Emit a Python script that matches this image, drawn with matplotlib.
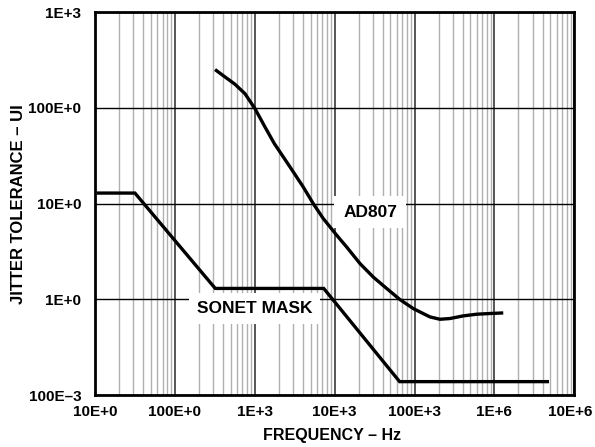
import matplotlib
matplotlib.use("Agg")
import matplotlib.pyplot as plt
import matplotlib.transforms as mtransforms
from matplotlib.ticker import FixedLocator, LogLocator, NullFormatter

plt.rcParams['font.family'] = ['Liberation Sans', 'DejaVu Sans']
plt.rcParams['font.weight'] = 'bold'

# SONET mask
sonet_freq = [11, 31.6, 320, 7300, 65000, 4.6e6]
sonet_ui = [12.9, 12.9, 1.3, 1.3, 0.138, 0.138]

# AD807 jitter tolerance
ad_freq = [318, 424, 565, 754, 1004, 1342, 1755, 2760, 4050, 5400, 7200,
           10600, 14100, 20700, 30400, 44700, 65600, 96400, 117000, 156000,
           208000, 277000, 406000, 598000, 879000, 1.29e6]
ad_ui = [252, 211, 177, 141, 98.6, 63.3, 42.5, 24.2, 14.9, 10.0, 6.99,
         4.68, 3.53, 2.37, 1.71, 1.30, 0.995, 0.801, 0.738, 0.655,
         0.619, 0.630, 0.671, 0.699, 0.711, 0.721]

x_ticks = [10, 100, 1e3, 1e4, 1e5, 1e6, 1e7]
x_labels = ["10E+0", "100E+0", "1E+3", "10E+3", "100E+3", "1E+6", "10E+6"]
y_ticks = [0.1, 1, 10, 100, 1000]
y_labels = ["100E\u20133", "1E+0", "10E+0", "100E+0", "1E+3"]

fig = plt.figure(figsize=(5.95, 4.47), dpi=100)
ax = fig.add_axes([0.1597, 0.1163, 0.8055, 0.8562])
ax.set_xscale('log')
ax.set_yscale('log')
ax.set_xlim(10, 1e7)
ax.set_ylim(0.1, 1000)

ax.xaxis.set_major_locator(FixedLocator(x_ticks))
ax.set_xticklabels(x_labels)
ax.xaxis.set_minor_locator(LogLocator(base=10, subs=range(2, 10), numticks=100))
ax.xaxis.set_minor_formatter(NullFormatter())
ax.yaxis.set_major_locator(FixedLocator(y_ticks))
ax.set_yticklabels(y_labels)
ax.yaxis.set_minor_locator(FixedLocator([]))

ax.set_axisbelow(True)
ax.grid(True, which='minor', axis='x', color='#b0b0b0', linewidth=1.0)
ax.grid(True, which='major', axis='x', color='#555555', linewidth=1.4)
ax.grid(True, which='major', axis='y', color='black', linewidth=1.0)

ax.tick_params(which='both', length=0)
ax.tick_params(axis='x', labelsize=11, pad=7)
ax.tick_params(axis='y', labelsize=11, pad=10)
for lab in ax.get_xticklabels() + ax.get_yticklabels():
    lab.set_fontweight('bold')

# nudge the last x label left so it stays inside the figure
last = ax.get_xticklabels()[-1]
last.set_transform(last.get_transform() +
                   mtransforms.ScaledTranslation(-4 / 100, 0, fig.dpi_scale_trans))

for s in ax.spines.values():
    s.set_linewidth(2.0)
    s.set_color('black')

ax.text(27700, 8.13, "AD807", ha='center', va='center', fontsize=12.5,
        fontweight='bold', zorder=3,
        bbox=dict(boxstyle='square,pad=0.5', facecolor='white', edgecolor='none'))
ax.text(990, 0.807, "SONET MASK", ha='center', va='center', fontsize=12.5,
        fontweight='bold', zorder=3,
        bbox=dict(boxstyle='square,pad=0.45', facecolor='white', edgecolor='none'))

ax.plot(sonet_freq, sonet_ui, color='black', linewidth=2.4, zorder=5,
        solid_joinstyle='miter')
ax.plot(ad_freq, ad_ui, color='black', linewidth=2.4, zorder=5,
        solid_joinstyle='round', solid_capstyle='butt')

ax.set_xlabel("FREQUENCY \u2013 Hz", fontsize=11.5, fontweight='bold')
ax.set_ylabel("JITTER TOLERANCE \u2013 UI", fontsize=12, fontweight='bold')
ax.xaxis.set_label_coords(0.4955, -0.107)
ax.yaxis.set_label_coords(-0.1607, 0.5)
ax.xaxis.label.set_va('center')
ax.yaxis.label.set_va('center')

fig.savefig("out.png", dpi=100)
